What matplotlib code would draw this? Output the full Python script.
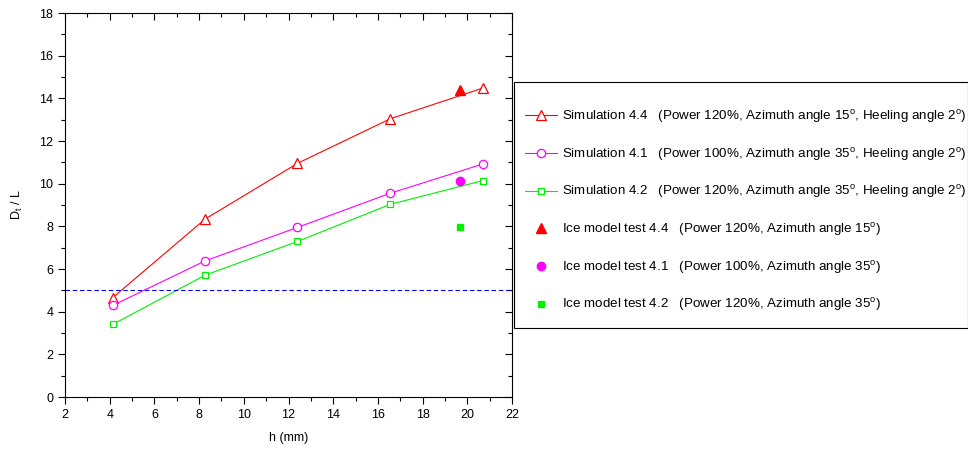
import matplotlib
matplotlib.use("Agg")
import matplotlib.pyplot as plt
from matplotlib.ticker import MultipleLocator
from matplotlib.patches import Rectangle

plt.rcParams['font.family'] = ['Liberation Sans', 'DejaVu Sans']
plt.rcParams['mathtext.default'] = 'regular'

h = [4.13, 8.27, 12.40, 16.55, 20.69]
sim44 = [4.65, 8.34, 10.95, 13.04, 14.48]
sim41 = [4.29, 6.38, 7.95, 9.55, 10.92]
sim42 = [3.40, 5.71, 7.29, 9.03, 10.14]
ice_h = [19.69]
ice44 = [14.4]
ice41 = [10.13]
ice42 = [7.98]
threshold = 5.0

labels = [
    r"Simulation 4.4   (Power 120%, Azimuth angle 15$^\mathregular{o}$, Heeling angle 2$^\mathregular{o}$)",
    r"Simulation 4.1   (Power 100%, Azimuth angle 35$^\mathregular{o}$, Heeling angle 2$^\mathregular{o}$)",
    r"Simulation 4.2   (Power 120%, Azimuth angle 35$^\mathregular{o}$, Heeling angle 2$^\mathregular{o}$)",
    r"Ice model test 4.4   (Power 120%, Azimuth angle 15$^\mathregular{o}$)",
    r"Ice model test 4.1   (Power 100%, Azimuth angle 35$^\mathregular{o}$)",
    r"Ice model test 4.2   (Power 120%, Azimuth angle 35$^\mathregular{o}$)",
]

RED, MAG, GRN = '#ff0000', '#ff00ff', '#00f000'

W, H = 968, 450
fig = plt.figure(figsize=(W/100, H/100), dpi=100)
ax = fig.add_axes([65/W, 1-397/H, (512-65)/W, (397-13)/H])

lw = 0.8
l1, = ax.plot(h, sim44, color=RED, lw=lw, marker='^', ms=7, mfc='white', mec=RED, mew=0.9)
l2, = ax.plot(h, sim41, color=MAG, lw=lw, marker='o', ms=6, mfc='white', mec=MAG, mew=0.9)
l3, = ax.plot(h, sim42, color=GRN, lw=lw, marker='s', ms=5, mfc='white', mec=GRN, mew=0.9)
p1, = ax.plot(ice_h, ice44, ls='none', marker='^', ms=7, color=RED)
p2, = ax.plot(ice_h, ice41, ls='none', marker='o', ms=6, color=MAG)
p3, = ax.plot(ice_h, ice42, ls='none', marker='s', ms=5, color=GRN)
ax.axhline(threshold, color='#0000ff', lw=0.8, ls=(0, (4, 2.5)))

ax.set_xlim(2, 22)
ax.set_ylim(0, 18)
ax.xaxis.set_major_locator(MultipleLocator(2))
ax.xaxis.set_minor_locator(MultipleLocator(1))
ax.yaxis.set_major_locator(MultipleLocator(2))
ax.yaxis.set_minor_locator(MultipleLocator(1))
ax.tick_params(which='both', top=True, right=True, labelsize=9, width=0.8, direction='out')
ax.tick_params(which='major', length=5)
ax.tick_params(which='minor', length=3)
# top and right ticks point inward
for t in ax.xaxis.get_major_ticks() + ax.xaxis.get_minor_ticks():
    t.tick2line.set_marker(3)
for t in ax.yaxis.get_major_ticks() + ax.yaxis.get_minor_ticks():
    t.tick2line.set_marker(0)
for s in ax.spines.values():
    s.set_linewidth(0.8)

ax.set_xlabel('h (mm)', fontsize=9, labelpad=8)
ax.set_ylabel(r'D$_t$ / L', fontsize=9, labelpad=10)

# legend frame
frame = Rectangle((514/W, 1-328/H), (967.5-514)/W, (328-82)/H, transform=fig.transFigure,
                  fill=False, edgecolor='black', lw=0.8)
fig.patches.append(frame)

leg = fig.legend([l1, l2, l3, p1, p2, p3], labels, loc='upper left',
                 bbox_to_anchor=(525/W, 1-108/H), fontsize=9.6,
                 frameon=False, handlelength=2.4, handletextpad=0.35,
                 labelspacing=1.55, borderpad=0.0, borderaxespad=0.0)

fig.savefig('out.png', dpi=100)
